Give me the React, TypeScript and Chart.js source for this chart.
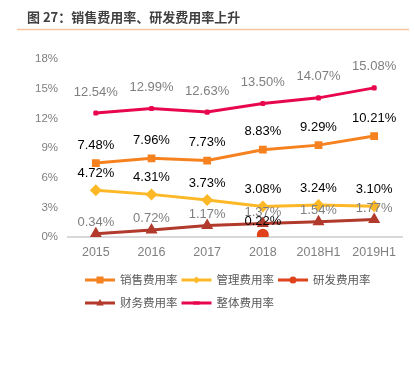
import React, { useEffect, useRef } from "react";
import { Chart, registerables } from "chart.js";

Chart.register(...registerables);

const categories = ["2015", "2016", "2017", "2018", "2018H1", "2019H1"];
const salesRate = [7.48, 7.96, 7.73, 8.83, 9.29, 10.21];
const adminRate = [4.72, 4.31, 3.73, 3.08, 3.24, 3.1];
const rdRate = [null, null, null, 0.22, null, null];
const financeRate = [0.34, 0.72, 1.17, 1.37, 1.54, 1.77];
const totalRate = [12.54, 12.99, 12.63, 13.5, 14.07, 15.08];
const seriesNames = ["销售费用率", "管理费用率", "研发费用率", "财务费用率", "整体费用率"];
const yMin = 0;
const yMax = 18;
const yStep = 3;
const titleText = "图 27：销售费用率、研发费用率上升";

const NUM_FONT = '"Liberation Sans", Arial, sans-serif';
const CJK_FONT = '"Noto Sans CJK SC", "Noto Sans", sans-serif';

function drawMarker(ctx: CanvasRenderingContext2D, style: string, x: number, y: number, r: number, color: string) {
  ctx.save();
  ctx.fillStyle = color;
  ctx.beginPath();
  if (style === "rect") {
    ctx.rect(x - r, y - r, 2 * r, 2 * r);
  } else if (style === "rectRot") {
    ctx.moveTo(x, y - r);
    ctx.lineTo(x + r, y);
    ctx.lineTo(x, y + r);
    ctx.lineTo(x - r, y);
    ctx.closePath();
  } else if (style === "circle") {
    ctx.arc(x, y, r, 0, Math.PI * 2);
  } else if (style === "triangle") {
    ctx.moveTo(x, y - r);
    ctx.lineTo(x + r * 0.95, y + r * 0.6);
    ctx.lineTo(x - r * 0.95, y + r * 0.6);
    ctx.closePath();
  } else {
    ctx.rect(x - r * 1.6, y - r * 0.8, r * 3.2, r * 1.6);
  }
  ctx.fill();
  ctx.restore();
}

const titlePlugin = {
  id: "titleDraw",
  afterDraw(chart: any) {
    const ctx = chart.ctx as CanvasRenderingContext2D;
    ctx.save();
    ctx.font = `bold 13px ${CJK_FONT}`;
    ctx.fillStyle = "#404040";
    ctx.textBaseline = "middle";
    ctx.textAlign = "left";
    ctx.fillText(titleText, 27, 17);
    ctx.strokeStyle = "#F8C49E";
    ctx.lineWidth = 1.5;
    ctx.beginPath();
    ctx.moveTo(17, 29.5);
    ctx.lineTo(409, 29.5);
    ctx.stroke();
    ctx.restore();
  },
};

const labelPlugin = {
  id: "valueLabels",
  afterDatasetsDraw(chart: any) {
    const ctx = chart.ctx as CanvasRenderingContext2D;
    chart.data.datasets.forEach((ds: any, i: number) => {
      const meta = chart.getDatasetMeta(i);
      ctx.save();
      ctx.font = `13px ${NUM_FONT}`;
      ctx.fillStyle = ds.labelColor;
      ctx.textAlign = "center";
      ctx.textBaseline = "middle";
      meta.data.forEach((pt: any, j: number) => {
        const v = ds.data[j];
        if (v === null || v === undefined) return;
        ctx.fillText(v.toFixed(2) + "%", pt.x, pt.y - ds.labelOffset);
      });
      ctx.restore();
    });
  },
};

const legendPlugin = {
  id: "customLegend",
  afterDraw(chart: any) {
    const ctx = chart.ctx as CanvasRenderingContext2D;
    const area = chart.chartArea;
    const startX = area.left + 17;
    let x = startX;
    let y = area.bottom + 43;
    ctx.save();
    ctx.font = `11.5px ${CJK_FONT}`;
    ctx.textBaseline = "middle";
    ctx.textAlign = "left";
    chart.data.datasets.forEach((ds: any) => {
      const tw = ctx.measureText(ds.label).width;
      const w = 30 + 5 + tw;
      if (x + w > area.right && x > startX) {
        x = startX;
        y += 23;
      }
      ctx.strokeStyle = ds.borderColor;
      ctx.lineWidth = 3;
      ctx.beginPath();
      ctx.moveTo(x, y);
      ctx.lineTo(x + 30, y);
      ctx.stroke();
      drawMarker(ctx, ds.legendStyle, x + 15, y, ds.legendMarker, ds.borderColor);
      ctx.fillStyle = "#595959";
      ctx.fillText(ds.label, x + 35, y);
      x += w + 4;
    });
    ctx.restore();
  },
};

export default function App() {
  const canvasRef = useRef<HTMLCanvasElement | null>(null);

  useEffect(() => {
    if (!canvasRef.current) return;
    const colors = ["#F5821F", "#FDB827", "#E0421B", "#B23A2C", "#E8074F"];
    const styles = ["rect", "rectRot", "circle", "triangle", "dash"];
    const radii = [5.5, 6, 6, 7, 3];
    const legendRadii = [3.5, 3.5, 3.5, 4, 2];
    const labelColors = ["#000000", "#000000", "#000000", "#7f7f7f", "#7f7f7f"];
    const labelOffsets = [18, 17, 13, 11, 21];
    const values = [salesRate, adminRate, rdRate, financeRate, totalRate];

    const datasets = values.map((d, i) => ({
      label: seriesNames[i],
      data: d,
      borderColor: colors[i],
      backgroundColor: colors[i],
      borderWidth: 3,
      pointStyle: styles[i] === "dash" ? "rectRounded" : styles[i],
      pointRadius: radii[i],
      pointHoverRadius: radii[i],
      pointBorderWidth: 0,
      pointBackgroundColor: colors[i],
      tension: 0,
      spanGaps: false,
      labelColor: labelColors[i],
      labelOffset: labelOffsets[i],
      legendMarker: legendRadii[i],
      legendStyle: styles[i],
    }));

    const chart = new Chart(canvasRef.current, {
      type: "line",
      data: { labels: categories, datasets: datasets as any },
      options: {
        responsive: false,
        animation: false,
        devicePixelRatio: 1,
        layout: { padding: { left: 0, right: 13, top: 59, bottom: 98 } },
        plugins: {
          legend: { display: false },
          tooltip: { enabled: false },
          title: { display: false },
        },
        scales: {
          x: {
            offset: true,
            grid: { display: false, drawTicks: false },
            border: { display: true, color: "#D9D9D9", width: 2 },
            ticks: { color: "#7f7f7f", font: { family: NUM_FONT, size: 12.5 }, padding: 8 },
            afterFit: (s: any) => { s.height = 30; },
          },
          y: {
            min: yMin,
            max: yMax,
            grid: { display: false, drawTicks: false },
            border: { display: false },
            ticks: {
              stepSize: yStep,
              color: "#7f7f7f",
              font: { family: NUM_FONT, size: 11.5 },
              padding: 10,
              callback: (v: any) => `${v}%`,
            },
            afterFit: (s: any) => { s.width = 68; },
          },
        },
      },
      plugins: [titlePlugin, labelPlugin, legendPlugin],
    });

    return () => chart.destroy();
  }, []);

  return (
    <canvas
      ref={canvasRef}
      width={415}
      height={365}
      style={{ position: "absolute", left: 0, top: 0, width: 415, height: 365 }}
    />
  );
}
